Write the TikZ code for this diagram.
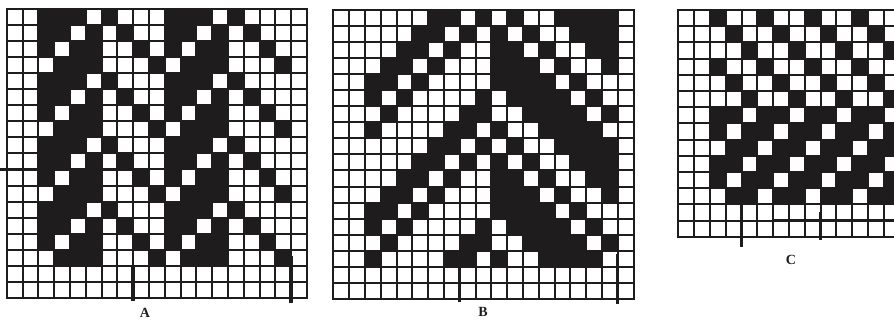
\documentclass[tikz,border=0pt]{standalone}
\usepackage{fontspec}
\setmainfont{Liberation Serif}
\definecolor{ink}{RGB}{30,28,28}
\tikzset{
  cell/.style={fill=ink},
  rule/.style={draw=ink,line width=2pt,line cap=rect},
  heavy/.style={draw=ink,line width=3.4pt},
  panel label/.style={font=\fontsize{14}{14}\selectfont\bfseries,text=ink,inner sep=0pt},
}
% squared paper: columns, rows
\newcommand{\gridlines}[2]{%
  \foreach \i in {0,...,#1} \draw[rule] (\i,0) -- (\i,#2);
  \foreach \j in {0,...,#2} \draw[rule] (0,\j) -- (#1,\j);
}

\begin{document}
\begin{tikzpicture}[x=1pt,y=-1pt]
  \clip (0,0) rectangle (894,320);
  \fill[white] (0,0) rectangle (894,320);

  % A: zigzag
  \begin{scope}[shift={(6.7,9)},x=15.8pt,y=-16.05pt]
    \foreach \r in {0,...,15}
      \foreach \c in {2,...,17}{
        \pgfmathtruncatemacro{\m}{mod(\c-2,8)}
        \pgfmathtruncatemacro{\p}{mod(\r,4)}
        \pgfmathtruncatemacro{\on}{(\m<4)*(1-((\m+\p)==3))+(\m>3)*((\m-4)==\p)}
        \ifnum\on=1 \fill[cell] (\c,\r) rectangle ++(1,1); \fi
      }
    \gridlines{19}{18}
    \draw[heavy] (-0.45,10) -- (9,10);
    \draw[heavy] (8,16) -- (8,18.2);
    \draw[heavy] (18,15.4) -- (18,18.3);
  \end{scope}

  % B: chevron
  \begin{scope}[shift={(333.3,10)},x=15.8pt,y=-16.05pt]
    \foreach \r in {0,...,15}
      \foreach \c in {2,...,17}{
        \pgfmathtruncatemacro{\s}{mod(\c+\r,8)}
        \pgfmathtruncatemacro{\t}{mod(\c-\r+16,8)}
        \pgfmathtruncatemacro{\on}{(\c<10)*((\s==1)+(\s>5))+(\c>9)*(1-(\t==2)-(\t==4)-(\t==5))}
        \ifnum\on=1 \fill[cell] (\c,\r) rectangle ++(1,1); \fi
      }
    \gridlines{19}{18}
    \draw[heavy] (8,16) -- (8,18.2);
    \draw[heavy] (18,15.2) -- (18,18.3);
  \end{scope}

  % C: broken twill
  \begin{scope}[shift={(678.3,10)},x=15.8pt,y=-16.2pt]
    \foreach \r in {0,...,11}
      \foreach \c in {2,...,14}{
        \pgfmathtruncatemacro{\on}{(\r<6)*(mod(\c-\r+28,3)==0)+(\r>5)*(1-(mod(\c+\r+20,3)==0))}
        \ifnum\on=1 \fill[cell] (\c,\r) rectangle ++(1,1); \fi
      }
    \gridlines{15}{14}
    \draw[heavy] (4,12) -- (4,14.6);
    \draw[heavy] (9,12.5) -- (9,14.2);
    \draw[ink,line width=2.6pt] (6,13) -- (15,13);
  \end{scope}

  \node[panel label] (labA) at (145,313) {A};
  \node[panel label] (labB) at (483,312) {B};
  \node[panel label] (labC) at (791,260) {C};
\end{tikzpicture}
\end{document}
